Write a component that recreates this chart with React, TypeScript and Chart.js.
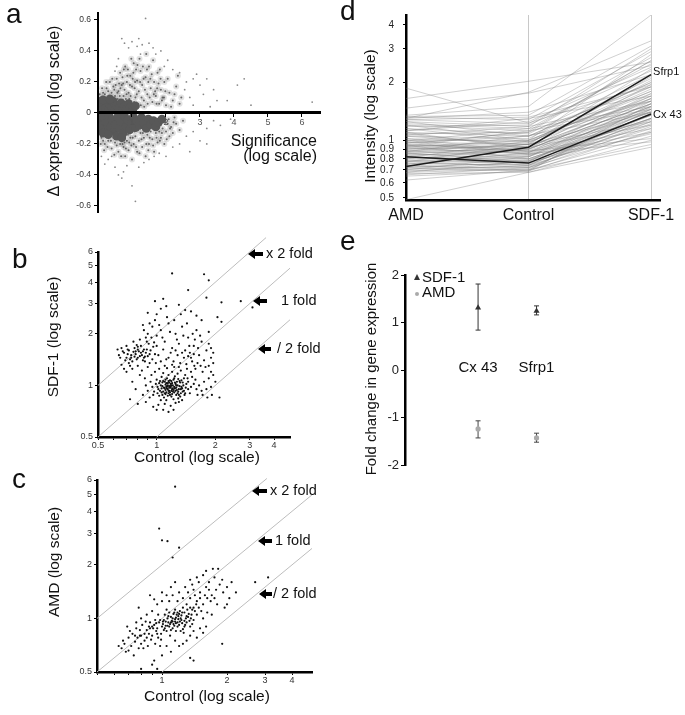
import React, { useEffect, useRef } from 'react';
import { Chart, registerables } from 'chart.js';

Chart.register(...registerables);

const FONT = '"Liberation Sans", Arial, Helvetica, sans-serif';
const W = 685;
const H = 715;

// ---------------- panel a : significance vs delta expression ----------------
const A_X_TICKS = [0, 1, 2, 3, 4, 5, 6];
const A_Y_TICKS = [-0.6, -0.4, -0.2, 0, 0.2, 0.4, 0.6];
const A_CORE = [
  [0.03, 0.02], [0.1, 0.05], [0.12, 0.02], [0.2, 0.07], [0.22, 0.035], [0.3, 0.015], [0.32, 0.06], [0.4, 0.04],
  [0.45, 0.075], [0.5, 0.02], [0.55, 0.05], [0.62, 0.03], [0.68, 0.065], [0.72, 0.015], [0.78, 0.045], [0.85, 0.025],
  [0.9, 0.06], [0.95, 0.035], [0.05, 0.075], [0.15, 0.085], [0.35, 0.09], [1.02, 0.015], [1.1, 0.045],
  [0.03, -0.02], [0.08, -0.05], [0.12, -0.08], [0.18, -0.03], [0.22, -0.11], [0.27, -0.06], [0.33, -0.02], [0.38, -0.09],
  [0.42, -0.045], [0.48, -0.12], [0.52, -0.075], [0.58, -0.025], [0.63, -0.1], [0.68, -0.055], [0.74, -0.13], [0.78, -0.02],
  [0.83, -0.085], [0.88, -0.045], [0.93, -0.11], [0.98, -0.065], [1.04, -0.025], [1.1, -0.095], [1.15, -0.05], [1.22, -0.08],
  [1.28, -0.03], [1.35, -0.065], [1.42, -0.1], [1.48, -0.04], [1.55, -0.075], [1.63, -0.05], [1.7, -0.09], [1.78, -0.06],
  [1.88, -0.04], [0.05, -0.1], [0.15, -0.13], [0.3, -0.14], [0.55, -0.15], [0.7, -0.16],
];
const A_CLOUD = [
  [0.2, 0.12], [0.25, 0.16], [0.3, 0.1], [0.35, 0.2], [0.4, 0.13], [0.45, 0.17], [0.5, 0.11], [0.55, 0.22], [0.6, 0.14],
  [0.65, 0.26], [0.7, 0.18], [0.75, 0.11], [0.8, 0.3], [0.85, 0.2], [0.9, 0.13], [0.95, 0.24], [1.0, 0.17], [1.05, 0.32],
  [1.1, 0.1], [1.15, 0.21], [1.2, 0.14], [1.25, 0.27], [1.3, 0.18], [1.35, 0.08], [1.4, 0.23], [1.45, 0.12], [1.5, 0.3],
  [1.55, 0.16], [1.6, 0.07], [1.65, 0.2], [1.7, 0.11], [1.75, 0.26], [1.8, 0.06], [1.85, 0.15], [1.9, 0.1], [1.95, 0.2],
  [2.0, 0.05], [2.1, 0.13], [2.2, 0.08], [2.3, 0.17], [2.4, 0.06], [0.1, 0.1], [0.15, 0.13], [0.28, 0.08], [0.38, 0.09],
  [0.48, 0.15], [0.58, 0.09], [0.62, 0.19], [0.72, 0.23], [0.78, 0.15], [0.88, 0.28], [0.92, 0.09], [0.98, 0.35],
  [1.02, 0.22], [1.08, 0.16], [1.12, 0.28], [1.18, 0.06], [1.22, 0.35], [1.28, 0.1], [1.32, 0.3], [1.38, 0.15],
  [1.42, 0.38], [1.48, 0.2], [1.52, 0.1], [1.58, 0.25], [1.62, 0.34], [1.68, 0.14], [1.72, 0.06], [1.78, 0.19],
  [1.82, 0.28], [1.88, 0.08], [1.98, 0.14], [2.05, 0.22], [2.15, 0.04], [2.25, 0.12], [2.35, 0.24], [2.45, 0.1],
  [0.68, 0.08], [0.82, 0.09], [1.06, 0.07], [1.26, 0.05], [1.46, 0.06], [1.36, 0.04],
  [0.05, 0.12], [0.12, 0.16], [0.18, 0.1], [0.24, 0.2], [0.3, 0.14], [0.36, 0.11], [0.42, 0.22], [0.46, 0.1], [0.52, 0.18],
  [0.57, 0.13], [0.64, 0.11], [0.66, 0.16], [0.74, 0.19], [0.76, 0.28], [0.84, 0.12], [0.86, 0.24], [0.94, 0.18],
  [0.96, 0.11], [1.04, 0.26], [1.09, 0.2], [1.14, 0.12], [1.16, 0.31], [1.24, 0.2], [1.34, 0.22], [1.44, 0.28],
  [1.54, 0.22], [1.64, 0.12], [1.74, 0.16], [1.84, 0.22], [1.94, 0.1],
  [0.1, -0.16], [0.2, -0.2], [0.3, -0.18], [0.4, -0.23], [0.5, -0.19], [0.6, -0.25], [0.65, -0.2], [0.75, -0.22],
  [0.8, -0.28], [0.85, -0.18], [0.9, -0.24], [0.95, -0.16], [1.0, -0.3], [1.05, -0.2], [1.1, -0.15], [1.15, -0.25],
  [1.2, -0.18], [1.25, -0.13], [1.3, -0.22], [1.35, -0.16], [1.4, -0.28], [1.45, -0.14], [1.5, -0.2], [1.55, -0.12],
  [1.6, -0.17], [1.65, -0.25], [1.7, -0.13], [1.75, -0.19], [1.8, -0.12], [1.85, -0.16], [1.9, -0.1], [1.95, -0.2],
  [2.0, -0.12], [2.05, -0.07], [2.1, -0.15], [2.15, -0.09], [2.2, -0.13], [2.3, -0.07], [2.4, -0.11], [2.5, -0.05],
  [0.35, -0.13], [0.45, -0.16], [0.55, -0.21], [0.7, -0.14], [0.78, -0.19], [0.88, -0.14], [0.98, -0.21], [1.08, -0.12],
  [1.18, -0.11], [1.28, -0.17], [1.38, -0.1], [1.48, -0.24], [1.58, -0.09], [1.68, -0.1], [1.78, -0.08], [1.88, -0.13],
  [1.98, -0.06], [2.08, -0.04], [2.25, -0.03], [0.25, -0.15], [0.15, -0.18],
  [0.08, -0.2], [0.18, -0.24], [0.28, -0.22], [0.38, -0.18], [0.48, -0.27], [0.58, -0.17], [0.68, -0.28], [0.72, -0.2],
  [0.82, -0.23], [0.92, -0.19], [1.02, -0.16], [1.12, -0.22], [1.22, -0.26], [1.32, -0.13], [1.42, -0.2], [1.52, -0.16],
  [1.62, -0.21], [1.72, -0.16], [1.82, -0.18], [2.02, -0.17], [2.12, -0.1], [2.22, -0.06],
];
const A_SPARSE = [
  [0.7, 0.48], [0.78, 0.45], [0.9, 0.42], [1.0, 0.46], [1.15, 0.43], [1.3, 0.44], [1.4, 0.61], [1.5, 0.45], [1.62, 0.42],
  [1.7, 0.38], [1.85, 0.4], [0.55, 0.3], [0.5, 0.27], [0.6, 0.35], [1.2, 0.48], [1.25, 0.38], [1.95, 0.3], [2.05, 0.34],
  [2.2, 0.28], [2.4, 0.26], [2.6, 0.2], [2.8, 0.22], [2.9, 0.25], [3.0, 0.18], [3.2, 0.22], [3.1, 0.12], [3.4, 0.15],
  [3.5, 0.08], [2.7, 0.1], [2.55, 0.15], [4.1, 0.18], [4.3, 0.22], [3.8, 0.08], [4.5, 0.05], [6.3, 0.07], [2.8, 0.05],
  [3.3, 0.04], [0.3, -0.3], [0.5, -0.35], [0.6, -0.4], [0.75, -0.38], [0.7, -0.42], [0.85, -0.34], [1.0, -0.47],
  [1.1, -0.57], [1.2, -0.35], [1.35, -0.32], [1.5, -0.3], [1.65, -0.28], [1.8, -0.26], [2.0, -0.28], [2.2, -0.22],
  [2.4, -0.2], [2.6, -0.15], [2.8, -0.12], [3.0, -0.18], [3.2, -0.1], [3.4, -0.05], [3.6, -0.08], [3.9, -0.04],
  [0.1, -0.28], [0.2, -0.33], [0.4, -0.28], [2.7, -0.25], [3.2, -0.2],
];

// ---------------- panel b : SDF-1 vs Control ----------------
const B_X_TICKS = [0.5, 0.6, 0.7, 0.8, 0.9, 1, 2, 3, 4];
const B_X_LABELS = [0.5, 1, 2, 3, 4];
const B_Y_TICKS = [0.5, 1, 2, 3, 4, 5, 6];
const B_POINTS = [
  [1.02, 0.95], [1.05, 1.0], [1.08, 0.92], [1.1, 1.05], [1.12, 0.98], [1.15, 0.9], [1.18, 1.02], [1.2, 0.95], [1.22, 1.08],
  [1.25, 0.93], [1.28, 1.0], [1.3, 0.88], [1.32, 1.04], [1.35, 0.96], [1.38, 1.1], [1.4, 0.9], [1.0, 1.08], [1.03, 0.87],
  [1.06, 1.12], [1.09, 0.85], [1.11, 0.94], [1.13, 1.1], [1.16, 0.99], [1.19, 0.86], [1.21, 1.0], [1.24, 1.13], [1.26, 0.97],
  [1.29, 0.84], [1.31, 0.99], [1.34, 1.07], [1.36, 0.92], [1.42, 1.02], [1.45, 0.95], [0.97, 0.92], [0.99, 1.02], [1.01, 0.98],
  [1.04, 0.93], [1.07, 1.04], [1.1, 0.9], [1.12, 1.03], [1.14, 0.95], [1.17, 1.07], [1.19, 0.93], [1.23, 0.98], [1.27, 1.05],
  [1.3, 0.95], [1.33, 0.9], [1.37, 1.0], [1.14, 0.87], [1.16, 0.93], [1.18, 0.97], [1.2, 0.89], [1.23, 0.91], [1.25, 1.02],
  [1.15, 1.15], [1.08, 1.18], [1.2, 1.2], [1.28, 1.17], [1.12, 0.82], [1.22, 0.83], [1.05, 0.82], [1.3, 0.8], [0.95, 0.98],
  [0.93, 1.05], [0.96, 0.88], [1.4, 1.15], [1.45, 1.05], [1.5, 0.98], [1.48, 0.9], [1.55, 1.02], [1.52, 1.12], [1.6, 0.95],
  [1.58, 1.08], [1.65, 1.0], [1.7, 0.93], [1.62, 0.88], [1.1, 0.78], [1.18, 0.76], [1.02, 0.77], [1.25, 0.79], [1.35, 0.82],
  [0.9, 0.93], [0.88, 1.0], [0.92, 0.85], [0.87, 1.1], [0.94, 1.15], [0.98, 1.2], [1.03, 1.25], [1.13, 1.26], [1.23, 1.28],
  [1.33, 1.22], [1.43, 1.25], [1.5, 1.2], [1.56, 1.3], [1.14, 1.0], [1.16, 1.04], [1.11, 1.01], [1.19, 1.06], [1.21, 0.96],
  [1.17, 0.91], [1.13, 0.96], [1.24, 1.04], [1.27, 0.94], [1.09, 0.97], [1.06, 0.91], [1.07, 0.99], [1.04, 1.06], [1.26, 0.88],
  [1.29, 1.09], [1.32, 0.86], [1.34, 0.98], [1.38, 0.93], [1.41, 0.97],
  [1.01, 0.9], [1.03, 1.03], [1.06, 0.96], [1.08, 1.06], [1.11, 0.89], [1.13, 0.99], [1.15, 1.06], [1.17, 0.88], [1.19, 1.0],
  [1.21, 0.92], [1.23, 1.1], [1.26, 1.0], [1.29, 0.92], [1.31, 1.06], [1.33, 0.95], [1.1, 0.96], [1.12, 0.91], [1.14, 1.03],
  [1.16, 0.97], [1.2, 1.03], [1.22, 0.94], [1.18, 0.99], [1.24, 0.96], [1.15, 0.93], [1.11, 1.08], [1.07, 0.88], [1.28, 0.9],
  [1.36, 1.04], [1.39, 0.88], [1.44, 1.1],
  [0.68, 1.55], [0.7, 1.45], [0.72, 1.6], [0.74, 1.5], [0.75, 1.38], [0.77, 1.65], [0.78, 1.52], [0.8, 1.45], [0.81, 1.58],
  [0.83, 1.7], [0.84, 1.5], [0.85, 1.4], [0.86, 1.62], [0.88, 1.55], [0.9, 1.48], [0.91, 1.75], [0.93, 1.6], [0.95, 1.42],
  [0.96, 1.68], [0.98, 1.52], [0.7, 1.7], [0.72, 1.35], [0.76, 1.8], [0.79, 1.42], [0.82, 1.85], [0.87, 1.38], [0.89, 1.8],
  [0.92, 1.35], [0.94, 1.9], [0.97, 1.78], [0.66, 1.65], [0.69, 1.4], [0.73, 1.3], [0.76, 1.57], [0.79, 1.72], [0.82, 1.48],
  [0.85, 1.58], [0.87, 1.47], [0.8, 1.62], [0.78, 1.58], [0.74, 1.45], [0.71, 1.52], [0.64, 1.5], [0.66, 1.32], [0.63, 1.62],
  [0.68, 1.25], [0.75, 1.25], [0.8, 1.3], [0.9, 1.28], [0.99, 1.35],
  [0.65, 1.45], [0.67, 1.58], [0.71, 1.62], [0.73, 1.42], [0.77, 1.47], [0.8, 1.68], [0.83, 1.55], [0.86, 1.45], [0.89, 1.62],
  [0.92, 1.52],
  [1.0, 1.95], [1.05, 2.1], [1.1, 1.8], [1.15, 2.3], [1.2, 1.65], [1.25, 2.0], [1.3, 1.75], [1.35, 2.2], [1.4, 1.6],
  [1.45, 1.9], [1.5, 1.45], [1.55, 1.7], [1.6, 2.1], [1.65, 1.5], [1.7, 1.8], [1.75, 1.4], [1.8, 1.6], [1.85, 1.75],
  [1.9, 1.45], [1.02, 1.5], [1.08, 1.62], [1.12, 1.42], [1.18, 1.55], [1.22, 1.38], [1.28, 1.5], [1.32, 1.35], [1.38, 1.45],
  [1.42, 1.33], [1.48, 1.55], [1.52, 1.38], [1.58, 1.25], [1.62, 1.35], [1.68, 1.3], [1.72, 1.2], [1.78, 1.28], [0.95, 2.2],
  [0.98, 2.4], [1.03, 2.25], [1.07, 1.9], [1.13, 2.5], [1.17, 2.05], [1.23, 2.4], [1.27, 1.85], [1.33, 2.6], [1.37, 1.95],
  [1.43, 2.3], [1.47, 1.7], [1.53, 2.0], [1.57, 1.85], [1.63, 1.65], [1.67, 1.95], [0.9, 2.0], [0.92, 2.3], [0.86, 2.1],
  [0.88, 1.9], [0.85, 2.25], [1.0, 1.7], [1.1, 1.3], [1.2, 1.32], [1.3, 1.28], [1.05, 1.38], [1.15, 1.45], [1.25, 1.6],
  [1.35, 1.55], [1.45, 1.48], [1.55, 1.52], [1.9, 1.65], [1.95, 1.55], [1.85, 1.3], [1.9, 1.2], [1.95, 1.35],
  [1.75, 1.05], [1.8, 0.95], [1.85, 1.1], [1.9, 0.98], [1.95, 1.15], [2.0, 1.05], [1.72, 0.88], [1.82, 0.85], [1.92, 0.88],
  [2.1, 0.85], [0.73, 0.83], [0.8, 0.78], [0.85, 0.88], [0.88, 0.8], [0.78, 0.95], [0.75, 1.05], [0.82, 1.15], [0.7, 1.2],
  [0.84, 1.22], [0.96, 0.75], [1.0, 0.72], [1.08, 0.72], [1.15, 0.7], [1.22, 0.72],
  [1.2, 4.5], [1.75, 4.45], [1.85, 4.1], [1.45, 3.6], [1.8, 3.25], [2.15, 3.05], [2.7, 3.1], [3.1, 2.85], [0.98, 3.1],
  [1.08, 3.2], [1.05, 2.8], [1.12, 2.9], [1.3, 2.95], [2.05, 2.5], [2.15, 2.35], [1.85, 2.05], [1.5, 2.7], [1.6, 2.55],
  [1.7, 2.4], [1.4, 2.75], [1.0, 2.6], [0.9, 2.65],
];
const B_LINE_X2 = [[0.5, 1], [3.64, 7.28]];
const B_LINE_1 = [[0.5, 0.5], [4.83, 4.83]];
const B_LINE_HALF = [[1, 0.5], [4.83, 2.415]];

// ---------------- panel c : AMD vs Control ----------------
const C_X_TICKS = [0.5, 0.6, 0.7, 0.8, 0.9, 1, 2, 3, 4];
const C_X_LABELS = [1, 2, 3, 4];
const C_Y_TICKS = [0.5, 1, 2, 3, 4, 5, 6];
const C_POINTS = [
  [1.0, 0.9], [1.02, 0.98], [1.05, 0.85], [1.07, 0.95], [1.1, 1.02], [1.12, 0.88], [1.15, 0.96], [1.17, 1.05], [1.2, 0.92],
  [1.22, 1.0], [1.25, 0.87], [1.27, 1.08], [1.3, 0.95], [1.32, 1.02], [1.35, 0.9], [0.97, 0.95], [0.99, 0.82], [1.03, 1.05],
  [1.06, 0.91], [1.09, 0.8], [1.11, 0.97], [1.14, 1.08], [1.16, 0.85], [1.19, 0.99], [1.21, 1.1], [1.24, 0.94], [1.26, 0.83],
  [1.29, 1.0], [1.31, 1.12], [1.34, 0.97], [1.37, 1.05], [1.4, 0.98], [0.95, 0.88], [0.93, 0.98], [0.96, 1.05], [1.01, 0.93],
  [1.04, 0.96], [1.08, 1.08], [1.13, 0.93], [1.18, 0.9], [1.23, 1.04], [1.28, 0.92], [1.33, 1.06], [1.38, 0.93], [1.42, 1.1],
  [1.12, 1.0], [1.14, 0.91], [1.16, 1.01], [1.09, 0.93], [1.06, 1.0], [1.18, 0.95], [1.2, 1.06], [1.1, 0.86], [1.22, 0.85],
  [1.03, 0.88], [1.27, 0.97], [1.36, 1.0], [1.15, 1.12], [1.25, 1.15], [1.05, 1.12],
  [1.01, 0.96], [1.04, 0.91], [1.07, 1.03], [1.1, 0.95], [1.13, 1.06], [1.16, 0.94], [1.19, 1.03], [1.21, 0.96], [1.24, 1.08],
  [1.27, 0.9], [1.3, 1.03], [1.12, 0.96], [1.08, 0.9], [1.18, 1.08], [1.23, 0.98], [0.9, 0.9], [0.94, 0.94], [0.98, 0.98],
  [1.02, 0.86], [1.15, 0.99], [1.38, 1.12], [1.44, 1.2], [1.48, 1.15], [1.35, 1.15], [0.87, 0.9], [0.83, 0.82], [0.79, 0.8],
  [0.75, 0.8],
  [0.65, 0.68], [0.67, 0.72], [0.68, 0.65], [0.7, 0.78], [0.72, 0.7], [0.73, 0.82], [0.75, 0.74], [0.76, 0.88], [0.78, 0.68],
  [0.8, 0.8], [0.81, 0.92], [0.83, 0.75], [0.85, 0.86], [0.86, 0.7], [0.88, 0.95], [0.9, 0.8], [0.91, 0.88], [0.93, 0.72],
  [0.94, 0.85], [0.96, 0.78], [0.98, 0.7], [0.63, 0.7], [0.66, 0.75], [0.7, 0.66], [0.74, 0.62], [0.77, 0.78], [0.79, 0.86],
  [0.82, 0.68], [0.84, 0.96], [0.87, 0.82], [0.89, 0.76], [0.92, 0.92], [0.95, 0.82], [0.99, 0.76], [0.71, 0.85], [0.69, 0.9],
  [0.76, 0.95], [0.8, 0.72], [0.85, 0.78], [0.88, 0.88],
  [1.3, 1.2], [1.35, 1.3], [1.4, 1.15], [1.45, 1.25], [1.5, 1.4], [1.55, 1.2], [1.6, 1.5], [1.62, 1.3], [1.65, 1.6],
  [1.7, 1.35], [1.75, 1.7], [1.78, 1.45], [1.82, 1.9], [1.85, 1.55], [1.9, 1.65], [1.32, 1.4], [1.38, 1.55], [1.42, 1.35],
  [1.48, 1.6], [1.52, 1.1], [1.58, 1.35], [1.6, 1.85], [1.68, 1.25], [1.72, 1.9], [1.8, 1.2], [1.45, 1.05], [1.55, 1.0],
  [1.62, 1.08], [1.7, 1.05], [1.5, 1.3], [1.25, 1.3], [1.2, 1.4], [1.28, 1.5], [1.18, 1.25], [1.12, 1.35], [1.08, 1.25],
  [1.4, 1.45], [1.45, 1.7], [1.35, 1.65], [1.55, 1.75], [1.65, 1.45], [1.75, 1.3], [1.92, 1.4], [2.0, 1.5], [2.05, 1.3],
  [1.95, 1.15], [2.0, 1.2], [2.1, 1.6],
  [0.9, 1.1], [0.95, 1.2], [1.0, 1.25], [1.05, 1.35], [0.85, 1.05], [0.92, 1.28], [1.0, 1.4], [1.1, 1.5], [0.8, 1.0],
  [0.78, 1.15], [0.88, 1.35], [1.15, 1.6], [1.0, 0.62], [1.05, 0.7], [1.1, 0.65], [1.15, 0.75], [1.2, 0.7], [1.3, 0.75],
  [1.35, 0.8], [1.4, 0.85], [1.5, 0.88], [1.6, 0.9], [1.25, 0.72], [1.45, 0.78], [1.55, 0.83],
  [1.15, 5.5], [0.97, 3.2], [1.0, 2.75], [1.06, 2.72], [1.2, 2.5], [1.12, 2.2], [1.9, 0.72], [2.7, 1.6], [3.1, 1.7],
  [2.2, 1.4], [0.75, 0.5], [0.8, 0.52], [0.9, 0.55], [0.92, 0.58], [1.35, 0.6], [1.4, 0.58], [0.95, 0.52],
];
const C_LINE_X2 = [[0.5, 1], [3.06, 6.12]];
const C_LINE_1 = [[0.5, 0.5], [4.95, 4.95]];
const C_LINE_HALF = [[1, 0.5], [4.95, 2.475]];

// ---------------- panel d : intensity profiles ----------------
const D_CATEGORIES = ['AMD', 'Control', 'SDF-1'];
const D_Y_TICKS = [0.5, 0.6, 0.7, 0.8, 0.9, 1, 2, 3, 4];
// each row: [AMD, Control, SDF-1]
const D_GRAY_LINES = [
  [1.87, 1.23, 1.95], [1.65, 2.03, 2.55], [1.47, 1.76, 2.45], [1.3, 1.78, 3.3], [1.35, 1.5, 4.5], [1.33, 1.35, 3.1],
  [1.32, 1.28, 2.9], [1.28, 1.22, 2.7], [1.25, 1.18, 3.0], [1.22, 1.15, 2.5], [1.2, 1.12, 2.6], [1.18, 1.2, 2.3],
  [1.15, 1.08, 2.2], [1.12, 1.25, 2.4], [1.1, 1.05, 2.0], [1.08, 1.1, 1.9], [1.05, 1.02, 2.1], [1.02, 0.98, 1.8],
  [1.0, 1.0, 1.75], [0.98, 0.95, 1.7], [0.97, 1.05, 1.6], [0.95, 0.92, 1.65], [0.94, 0.9, 1.55], [0.93, 0.97, 1.85],
  [0.92, 0.88, 1.5], [0.91, 0.85, 1.45], [0.9, 0.93, 1.6], [0.89, 0.87, 1.4], [0.88, 0.82, 1.35], [0.87, 0.9, 1.55],
  [0.86, 0.86, 1.5], [0.85, 0.8, 1.3], [0.84, 0.84, 1.45], [0.83, 0.89, 1.7], [0.82, 0.78, 1.25], [0.81, 0.83, 1.4],
  [0.8, 0.8, 1.35], [0.79, 0.76, 1.2], [0.78, 0.82, 1.5], [0.77, 0.79, 1.3], [0.76, 0.74, 1.15], [0.75, 0.78, 1.42],
  [0.74, 0.75, 1.28], [0.73, 0.72, 1.1], [0.72, 0.77, 1.6], [0.71, 0.73, 1.22], [0.7, 0.7, 1.05], [0.69, 0.74, 1.38],
  [0.68, 0.71, 1.18], [0.67, 0.68, 1.0], [0.66, 0.72, 1.3], [0.65, 0.69, 1.12], [0.62, 0.7, 0.95], [0.49, 0.68, 0.92],
  [1.0, 0.85, 0.98], [0.95, 0.88, 1.02], [0.9, 0.95, 1.25], [1.05, 0.95, 1.4], [1.1, 0.9, 1.55], [1.15, 0.98, 1.65],
  [1.2, 1.0, 1.8], [1.25, 1.05, 2.0], [0.96, 1.1, 2.6], [0.92, 1.0, 2.8], [0.88, 0.95, 2.35], [0.85, 0.92, 2.15],
  [0.8, 0.9, 1.95], [0.75, 0.86, 1.75], [0.7, 0.82, 1.65], [0.68, 0.78, 1.48], [1.08, 0.92, 1.2], [1.02, 0.87, 1.15],
  [0.98, 0.84, 1.1], [0.94, 0.8, 1.3], [0.86, 0.77, 1.08], [0.82, 0.74, 1.35], [0.78, 0.72, 1.25], [0.74, 0.7, 1.45],
  [0.72, 0.69, 1.55], [1.3, 1.4, 2.2], [1.28, 1.32, 1.9], [1.12, 1.3, 1.7], [1.06, 1.18, 1.6], [0.99, 1.15, 1.5],
  [0.93, 1.12, 1.45], [0.87, 1.06, 1.4], [0.81, 0.99, 1.9], [0.77, 0.96, 2.05],
];
const D_SFRP1 = [0.73, 0.92, 2.2];
const D_CX43 = [0.82, 0.76, 1.37];

// ---------------- panel e : fold change ----------------
const E_GENES = ['Cx 43', 'Sfrp1'];
const E_GENE_POS = [1, 1.8];
const E_Y_TICKS = [-2, -1, 0, 1, 2];
const E_SDF1 = [1.31, 1.24];
const E_SDF1_LO = [0.84, 1.16];
const E_SDF1_HI = [1.81, 1.35];
const E_AMD = [-1.24, -1.43];
const E_AMD_LO = [-1.43, -1.52];
const E_AMD_HI = [-1.07, -1.33];

// ---------------- helpers ----------------
const pts = (arr: number[][]) => arr.map(([x, y]) => ({ x, y }));
const setTicks = (list: number[]) => (s: any) => {
  s.ticks = list.map((v) => ({ value: v }));
};

type TxtOpt = { align?: CanvasTextAlign; base?: CanvasTextBaseline; rot?: boolean; color?: string };
function txt(ctx: CanvasRenderingContext2D, t: string, x: number, y: number, size: number, o: TxtOpt = {}) {
  ctx.save();
  ctx.font = `${size}px ${FONT}`;
  ctx.fillStyle = o.color || '#111';
  ctx.textAlign = o.align || 'left';
  ctx.textBaseline = o.base || 'alphabetic';
  ctx.translate(x, y);
  if (o.rot) ctx.rotate(-Math.PI / 2);
  ctx.fillText(t, 0, 0);
  ctx.restore();
}
function arrow(ctx: CanvasRenderingContext2D, tip: number, y: number, len: number) {
  ctx.save();
  ctx.fillStyle = '#000';
  ctx.beginPath();
  ctx.moveTo(tip, y);
  ctx.lineTo(tip + 7, y - 5);
  ctx.lineTo(tip + 7, y - 2);
  ctx.lineTo(tip + len, y - 2);
  ctx.lineTo(tip + len, y + 2);
  ctx.lineTo(tip + 7, y + 2);
  ctx.lineTo(tip + 7, y + 5);
  ctx.closePath();
  ctx.fill();
  ctx.restore();
}

const baseOpts = (padding: any) => ({
  responsive: false,
  animation: false as const,
  events: [] as any[],
  layout: { padding },
  plugins: { legend: { display: false }, tooltip: { enabled: false } },
});

const refLine = (arr: number[][]) => ({
  data: pts(arr),
  showLine: true,
  borderColor: '#bdbdbd',
  borderWidth: 1,
  pointRadius: 0,
  clip: false as const,
});

function logX(min: number, max: number, ticks: number[], labels: number[]) {
  return {
    type: 'logarithmic',
    min,
    max,
    afterFit: (s: any) => { s.height = 20; },
    afterBuildTicks: setTicks(ticks),
    ticks: {
      autoSkip: false, maxRotation: 0, padding: 0, color: '#333',
      font: { family: FONT, size: 9 },
      callback: (v: any) => (labels.includes(Number(v)) ? String(v) : ''),
    },
    grid: { display: true, drawOnChartArea: false, drawTicks: true, tickLength: 3, color: '#000' },
    border: { display: true, color: '#000', width: 2.5 },
  };
}
function logY(min: number, max: number, ticks: number[]) {
  return {
    type: 'logarithmic',
    min,
    max,
    afterFit: (s: any) => { s.width = 30; },
    afterBuildTicks: setTicks(ticks),
    ticks: {
      autoSkip: false, padding: 2, color: '#333',
      font: { family: FONT, size: 9 },
      callback: (v: any) => String(v),
    },
    grid: { display: true, drawOnChartArea: false, drawTicks: true, tickLength: 3, color: '#000' },
    border: { display: true, color: '#000', width: 2.5 },
  };
}

function configA(): any {
  return {
    type: 'scatter',
    data: {
      datasets: [
        { data: pts(A_CORE), pointRadius: 4.4, backgroundColor: '#585858', borderWidth: 0 },
        { data: pts(A_CLOUD), pointRadius: 1, backgroundColor: 'rgba(80,80,80,0.85)', borderWidth: 0 },
        { data: pts(A_CLOUD), pointRadius: 3, backgroundColor: 'rgba(110,110,110,0.2)', borderWidth: 0 },
        { data: pts(A_SPARSE), pointRadius: 0.9, backgroundColor: '#8a8a8a', borderWidth: 0 },
      ],
    },
    options: {
      ...baseOpts({ left: 68, top: 13, right: 365, bottom: 503 }),
      scales: {
        x: {
          type: 'linear', position: { y: 0 }, min: 0, max: 6.53,
          afterFit: (s: any) => { s.height = 0; },
          afterBuildTicks: setTicks(A_X_TICKS),
          ticks: {
            z: 1, autoSkip: false, maxRotation: 0, padding: 1, color: '#555',
            font: { family: FONT, size: 9 },
            callback: (v: any) => (Number(v) === 0 ? '' : String(v)),
          },
          grid: { z: 1, display: true, drawOnChartArea: false, drawTicks: true, tickLength: 3, color: '#000' },
          border: { z: 2, display: true, color: '#000', width: 3 },
        },
        y: {
          type: 'linear', min: -0.639, max: 0.645,
          afterFit: (s: any) => { s.width = 30; },
          afterBuildTicks: setTicks(A_Y_TICKS),
          ticks: {
            z: 1, autoSkip: false, padding: 3, color: '#333',
            font: { family: FONT, size: 8.5 },
            callback: (v: any) => (Number(v) === 0 ? '0' : Number(v).toFixed(1)),
          },
          grid: { z: 1, display: true, drawOnChartArea: false, drawTicks: true, tickLength: 4, color: '#000' },
          border: { z: 2, display: true, color: '#000', width: 2 },
        },
      },
    },
    plugins: [{
      id: 'aText',
      afterDraw(chart: any) {
        const c = chart.ctx;
        txt(c, 'a', 6, 23, 28);
        txt(c, 'Δ expression (log scale)', 55, 111, 16, { align: 'center', base: 'middle', rot: true });
        txt(c, 'Significance', 317, 146, 16, { align: 'right' });
        txt(c, '(log scale)', 317, 161, 16, { align: 'right' });
      },
    }],
  };
}

function configB(): any {
  return {
    type: 'scatter',
    data: {
      datasets: [
        { data: pts(B_POINTS), pointRadius: 1.1, backgroundColor: '#111', borderWidth: 0 },
        refLine(B_LINE_X2), refLine(B_LINE_1), refLine(B_LINE_HALF),
      ],
    },
    options: {
      ...baseOpts({ left: 68, top: 252, right: 395, bottom: 258 }),
      scales: { x: logX(0.5, 4.83, B_X_TICKS, B_X_LABELS), y: logY(0.5, 6, B_Y_TICKS) },
    },
    plugins: [{
      id: 'bText',
      afterDraw(chart: any) {
        const c = chart.ctx;
        txt(c, 'b', 12, 268, 28);
        txt(c, 'SDF-1 (log scale)', 54, 337, 15.5, { align: 'center', base: 'middle', rot: true });
        txt(c, 'Control (log scale)', 197, 458, 15.5, { align: 'center', base: 'middle' });
        arrow(c, 248, 254, 15);
        txt(c, 'x 2 fold', 266, 254, 14.5, { base: 'middle' });
        arrow(c, 253, 301, 14);
        txt(c, '1 fold', 281, 301, 14.5, { base: 'middle' });
        arrow(c, 258, 349, 13);
        txt(c, '/ 2 fold', 277, 349, 14.5, { base: 'middle' });
      },
    }],
  };
}

function configC(): any {
  return {
    type: 'scatter',
    data: {
      datasets: [
        { data: pts(C_POINTS), pointRadius: 1.1, backgroundColor: '#111', borderWidth: 0 },
        refLine(C_LINE_X2), refLine(C_LINE_1), refLine(C_LINE_HALF),
      ],
    },
    options: {
      ...baseOpts({ left: 67, top: 480, right: 373, bottom: 23 }),
      scales: { x: logX(0.5, 4.95, C_X_TICKS, C_X_LABELS), y: logY(0.5, 6, C_Y_TICKS) },
    },
    plugins: [{
      id: 'cText',
      afterDraw(chart: any) {
        const c = chart.ctx;
        txt(c, 'c', 12, 488, 28);
        txt(c, 'AMD (log scale)', 55, 562, 15.5, { align: 'center', base: 'middle', rot: true });
        txt(c, 'Control (log scale)', 207, 697, 15.5, { align: 'center', base: 'middle' });
        arrow(c, 252, 491, 15);
        txt(c, 'x 2 fold', 270, 491, 14.5, { base: 'middle' });
        arrow(c, 258, 541, 14);
        txt(c, '1 fold', 275, 541, 14.5, { base: 'middle' });
        arrow(c, 259, 594, 13);
        txt(c, '/ 2 fold', 273, 594, 14.5, { base: 'middle' });
      },
    }],
  };
}

function profile(vals: number[], color: string, width: number) {
  return {
    data: vals.map((y, i) => ({ x: i, y })),
    showLine: true,
    borderColor: color,
    borderWidth: width,
    pointRadius: 0,
  };
}

function configD(): any {
  return {
    type: 'scatter',
    data: {
      datasets: [
        profile(D_SFRP1, '#1c1c1c', 1.5),
        profile(D_CX43, '#1c1c1c', 1.5),
        ...D_GRAY_LINES.map((r) => profile(r, 'rgba(125,125,125,0.36)', 1)),
      ],
    },
    options: {
      ...baseOpts({ left: 380, top: 13, right: 25, bottom: 485 }),
      scales: {
        x: {
          type: 'linear', min: 0, max: 2.073,
          afterFit: (s: any) => { s.height = 30; },
          afterBuildTicks: setTicks([0, 1, 2]),
          ticks: {
            autoSkip: false, maxRotation: 0, padding: 6, color: '#111',
            font: { family: FONT, size: 16 },
            callback: (v: any) => D_CATEGORIES[Number(v)] ?? '',
          },
          grid: {
            display: true, drawOnChartArea: true, drawTicks: false, lineWidth: 1,
            color: (ctx: any) => (ctx.tick && ctx.tick.value === 0 ? 'rgba(0,0,0,0)' : '#c8c8c8'),
          },
          border: { display: true, color: '#000', width: 2.5 },
        },
        y: {
          type: 'logarithmic', min: 0.488, max: 4.5,
          afterFit: (s: any) => { s.width = 26; },
          afterBuildTicks: setTicks(D_Y_TICKS),
          ticks: {
            autoSkip: false, padding: 9, color: '#222',
            font: { family: FONT, size: 10 },
            callback: (v: any) => String(v),
          },
          grid: { display: true, drawOnChartArea: false, drawTicks: true, tickLength: 3, color: '#000' },
          border: { display: true, color: '#000', width: 2.5 },
        },
      },
    },
    plugins: [{
      id: 'dText',
      afterDraw(chart: any) {
        const c = chart.ctx;
        const xs = chart.scales.x;
        const ys = chart.scales.y;
        txt(c, 'd', 340, 20, 28);
        txt(c, 'Intensity (log scale)', 371, 116, 15.5, { align: 'center', base: 'middle', rot: true });
        txt(c, 'Sfrp1', xs.getPixelForValue(2) + 2, ys.getPixelForValue(D_SFRP1[2]) - 3, 11, { base: 'middle' });
        txt(c, 'Cx 43', xs.getPixelForValue(2) + 2, ys.getPixelForValue(D_CX43[2]) + 1, 11, { base: 'middle' });
      },
    }],
  };
}

function configE(): any {
  return {
    type: 'scatter',
    data: {
      datasets: [
        {
          data: E_SDF1.map((y, i) => ({ x: E_GENE_POS[i], y })),
          pointStyle: 'triangle', pointRadius: 3.5, backgroundColor: '#333', borderColor: '#333', borderWidth: 0,
        },
        {
          data: E_AMD.map((y, i) => ({ x: E_GENE_POS[i], y })),
          pointStyle: 'circle', pointRadius: 2.6, backgroundColor: '#aaa', borderColor: '#aaa', borderWidth: 0,
        },
      ],
    },
    options: {
      ...baseOpts({ left: 375, top: 275, right: 90, bottom: 250 }),
      scales: {
        x: { type: 'linear', display: false, min: 0, max: 2.6 },
        y: {
          type: 'linear', min: -2, max: 2,
          afterFit: (s: any) => { s.width = 30; },
          afterBuildTicks: setTicks(E_Y_TICKS),
          ticks: {
            autoSkip: false, padding: 2, color: '#222',
            font: { family: FONT, size: 13 },
            callback: (v: any) => String(v),
          },
          grid: { display: true, drawOnChartArea: false, drawTicks: true, tickLength: 4, color: '#000' },
          border: { display: true, color: '#000', width: 2.5 },
        },
      },
    },
    plugins: [{
      id: 'eText',
      beforeDatasetsDraw(chart: any) {
        const c = chart.ctx;
        const xs = chart.scales.x;
        const ys = chart.scales.y;
        const bar = (x: number, lo: number, hi: number, color: string) => {
          const px = xs.getPixelForValue(x);
          const p1 = ys.getPixelForValue(lo);
          const p2 = ys.getPixelForValue(hi);
          c.save();
          c.strokeStyle = color;
          c.lineWidth = 1;
          c.beginPath();
          c.moveTo(px, p1); c.lineTo(px, p2);
          c.moveTo(px - 2.5, p1); c.lineTo(px + 2.5, p1);
          c.moveTo(px - 2.5, p2); c.lineTo(px + 2.5, p2);
          c.stroke();
          c.restore();
        };
        E_GENE_POS.forEach((x, i) => {
          bar(x, E_SDF1_LO[i], E_SDF1_HI[i], '#333');
          bar(x, E_AMD_LO[i], E_AMD_HI[i], '#444');
        });
      },
      afterDraw(chart: any) {
        const c = chart.ctx;
        const xs = chart.scales.x;
        const ys = chart.scales.y;
        txt(c, 'e', 340, 250, 28);
        txt(c, 'Fold change in gene expression', 372, 369, 15, { align: 'center', base: 'middle', rot: true });
        E_GENES.forEach((g, i) => {
          txt(c, g, xs.getPixelForValue(E_GENE_POS[i]), ys.getPixelForValue(0) - 2, 15, { align: 'center', base: 'middle' });
        });
        // legend
        c.save();
        c.fillStyle = '#333';
        c.beginPath();
        c.moveTo(417, 274); c.lineTo(420, 280); c.lineTo(414, 280); c.closePath(); c.fill();
        c.fillStyle = '#aaa';
        c.beginPath(); c.arc(417, 294, 2, 0, Math.PI * 2); c.fill();
        c.restore();
        txt(c, 'SDF-1', 422, 278, 15, { base: 'middle' });
        txt(c, 'AMD', 422, 293, 15, { base: 'middle' });
      },
    }],
  };
}

export default function App() {
  const refs = useRef<(HTMLCanvasElement | null)[]>([]);
  useEffect(() => {
    Chart.defaults.font.family = FONT;
    const makers = [configA, configB, configC, configD, configE];
    const charts = makers.map((m, i) => new Chart(refs.current[i] as HTMLCanvasElement, m()));
    return () => charts.forEach((c) => c.destroy());
  }, []);
  return (
    <div style={{ position: 'fixed', left: 0, top: 0, width: W, height: H, background: '#fff', overflow: 'hidden' }}>
      {[0, 1, 2, 3, 4].map((i) => (
        <canvas
          key={i}
          ref={(el) => { refs.current[i] = el; }}
          width={W}
          height={H}
          style={{ position: 'absolute', left: 0, top: 0, width: W, height: H }}
        />
      ))}
    </div>
  );
}
